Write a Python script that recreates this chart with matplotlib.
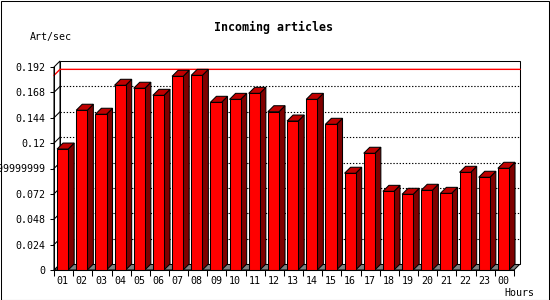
import matplotlib
matplotlib.use("Agg")
import matplotlib.pyplot as plt
from matplotlib.patches import Polygon, Rectangle

# data
hours = ["01", "02", "03", "04", "05", "06", "07", "08", "09", "10", "11", "12",
         "13", "14", "15", "16", "17", "18", "19", "20", "21", "22", "23", "00"]
rate = [0.1144, 0.1511, 0.1473, 0.1747, 0.1719, 0.1652, 0.1832, 0.1841,
        0.1586, 0.1614, 0.1671, 0.1497, 0.1409, 0.1614, 0.1378, 0.0915,
        0.1104, 0.0744, 0.0716, 0.0754, 0.0725, 0.0924, 0.0877, 0.0962]
yticks = [0, 0.024, 0.048, 0.072, 0.096, 0.12, 0.144, 0.168, 0.192]
ylabels = ["0", "0.024", "0.048", "0.072", "0.09999999999", "0.12",
           "0.144", "0.168", "0.192"]

W, H = 550, 300
fig = plt.figure(figsize=(W / 100, H / 100), dpi=100)
fig.patch.set_facecolor("white")
fig.add_artist(Rectangle((0.5 / W, 0.5 / H), 1 - 1.5 / W, 1 - 1.5 / H,
                         transform=fig.transFigure, fill=False,
                         edgecolor="black", lw=0.75))

# front plane of the 3d box
ax_l, ax_b, ax_w, ax_h = 54, 30, 460, 203
ax = fig.add_axes([ax_l / W, ax_b / H, ax_w / W, ax_h / H])
n = len(rate)
ymax = yticks[-1]
ax.set_xlim(0, n)
ax.set_ylim(0, ymax)
ax.patch.set_alpha(0)

# depth of the 3d effect, 6 px, in data units
depth = 6
dx = depth * n / ax_w
dy = depth * ymax / ax_h

lw = 0.75
# floor
ax.add_patch(Polygon([(0, 0), (n, 0), (n + dx, dy), (dx, dy)], closed=True,
                     facecolor="#808080", edgecolor="black", lw=lw,
                     clip_on=False, zorder=1))
# side wall and back wall
ax.add_patch(Polygon([(0, 0), (dx, dy), (dx, ymax + dy), (0, ymax)], closed=True,
                     facecolor="white", edgecolor="black", lw=lw,
                     clip_on=False, zorder=1))
ax.add_patch(Rectangle((dx, dy), n, ymax, facecolor="white", edgecolor="black",
                       lw=lw, clip_on=False, zorder=1))

# dotted grid on the back wall
for t in yticks[1:-1]:
    ax.plot([dx, n + dx], [t + dy, t + dy], color="black", lw=0.8,
            dashes=(1.2, 1.6), clip_on=False, zorder=2)
    ax.plot([0, dx], [t, t + dy], color="black", lw=lw, clip_on=False, zorder=2)

# max line
top = max(rate)
ax.plot([0, dx, n + dx], [top, top + dy, top + dy], color="red", lw=1.0,
        clip_on=False, zorder=2)

# 3d bars
pad, bw = 0.16, 0.58
for i, v in enumerate(rate):
    x0, x1 = i + pad, i + pad + bw
    ax.add_patch(Polygon([(x1, 0), (x1 + dx, dy), (x1 + dx, v + dy), (x1, v)],
                         closed=True, facecolor="#800000", edgecolor="black",
                         lw=lw, clip_on=False, zorder=3))
    ax.add_patch(Polygon([(x0, v), (x1, v), (x1 + dx, v + dy), (x0 + dx, v + dy)],
                         closed=True, facecolor="#c00000", edgecolor="black",
                         lw=lw, clip_on=False, zorder=3))
    ax.add_patch(Rectangle((x0, 0), bw, v, facecolor="red", edgecolor="black",
                           lw=lw, clip_on=False, zorder=4))

for s in ["top", "right"]:
    ax.spines[s].set_visible(False)
ax.spines["left"].set_linewidth(lw)
ax.spines["bottom"].set_linewidth(lw)
ax.spines["left"].set_zorder(5)
ax.spines["bottom"].set_zorder(5)

mono = "DejaVu Sans Mono"
ax.set_yticks(yticks)
ax.set_yticklabels(ylabels, family=mono, fontsize=7.2)
ax.tick_params(axis="y", direction="out", length=3, width=lw, pad=3)

ax.set_xticks(range(n + 1))
ax.set_xticklabels([])
ax.set_xticks([i + pad + bw / 2 for i in range(n)], minor=True)
ax.set_xticklabels(hours, minor=True, family=mono, fontsize=7.2)
ax.tick_params(axis="x", which="major", direction="out", length=4, width=lw)
ax.tick_params(axis="x", which="minor", length=0, pad=4)

fig.text(274 / W, 1 - 27 / H, "Incoming articles", family=mono,
         fontweight="bold", fontsize=8.4, ha="center", va="center")
fig.text(30 / W, 1 - 37 / H, "Art/sec", family=mono, fontsize=7.2,
         ha="left", va="center")
fig.text(504 / W, 1 - 293 / H, "Hours", family=mono, fontsize=7.2,
         ha="left", va="center")

fig.savefig("out.png", dpi=100)
